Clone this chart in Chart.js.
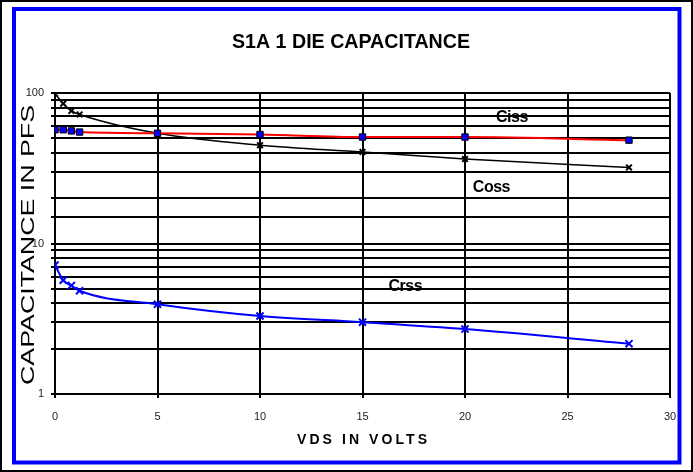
<!DOCTYPE html>
<html>
<head>
<meta charset="utf-8">
<script src="https://cdn.jsdelivr.net/npm/chart.js@4/dist/chart.umd.min.js"></script>
<style>
  html, body { margin: 0; padding: 0; background: #fff; }
  #wrap { width: 693px; height: 472px; }
</style>
</head>
<body>
<div id="wrap"><canvas id="capChart" width="693" height="472"></canvas></div>
<script>
// data
const vds = [0, 0.4, 0.8, 1.2, 5, 10, 15, 20, 28]
const ciss = [57, 57, 56, 55, 54, 53, 51, 51, 48.6]
const coss = [99, 85, 76, 72, 54, 45, 40.6, 36.4, 32]
const crss = [7.2, 5.7, 5.25, 4.85, 3.95, 3.3, 3.0, 2.7, 2.16]
const yLabels = [1, 10, 100]
const seriesNames = ['Ciss', 'Coss', 'Crss']

// where the series names sit (in data units)
const nameSpots = [
    { x: 22.3, y: 69 },
    { x: 21.3, y: 23.7 },
    { x: 17.1, y: 5.16 }
]

const pts = (ys) => vds.map((v, i) => ({ x: v, y: ys[i] }))

// draw text fitted to a width, either by spacing letters or by stretching glyphs
function fitText(ctx, txt, cx, cy, font, w, opts = {}) {
    ctx.save()
    ctx.font = font
    ctx.letterSpacing = '0px'
    const plain = ctx.measureText(txt).width
    ctx.translate(cx, cy)
    if (opts.angle) ctx.rotate(opts.angle)
    ctx.textAlign = 'left'
    ctx.textBaseline = 'middle'
    ctx.fillStyle = '#000'
    if (opts.stretch) {
        ctx.scale(w / plain, 1)
        ctx.fillText(txt, -plain / 2, 0)
    } else {
        const ls = w ? (w - plain) / (txt.length - 1) : -0.5
        const full = w || plain + ls * (txt.length - 1)
        ctx.letterSpacing = ls + 'px'
        ctx.fillText(txt, -full / 2, 0)
    }
    ctx.restore()
}

const decor = {
    id: 'decor',
    beforeDraw(chart) {
        const ctx = chart.ctx
        ctx.save()
        ctx.fillStyle = '#fff'
        ctx.fillRect(0, 0, chart.width, chart.height)
        ctx.strokeStyle = '#000'
        ctx.lineWidth = 2
        ctx.strokeRect(1, 1, 691, 470)
        ctx.strokeStyle = '#0000ff'
        ctx.lineWidth = 4
        ctx.strokeRect(14, 9, 665.5, 453.5)
        ctx.restore()
    },
    afterDraw(chart) {
        const ctx = chart.ctx
        const xs = chart.scales.x, ys = chart.scales.y
        fitText(ctx, 'S1A 1 DIE CAPACITANCE', 351, 42, 'bold 21px "Liberation Sans", Arial', 238, { stretch: true })
        fitText(ctx, 'VDS IN VOLTS', 362, 440, 'bold 14px "Liberation Sans", Arial', 130)
        fitText(ctx, 'CAPACITANCE IN PFS', 29, 245, '18px "Liberation Sans", Arial', 280, { stretch: true, angle: -Math.PI / 2 })
        seriesNames.forEach((n, i) => {
            fitText(ctx, n, xs.getPixelForValue(nameSpots[i].x), ys.getPixelForValue(nameSpots[i].y),
                'bold 16px "Liberation Sans", Arial', 0)
        })
    }
}

const ctx = document.getElementById('capChart').getContext('2d')

const config = {
    type: 'line',
    data: {
        datasets: [{
            label: seriesNames[0],
            data: pts(ciss),
            borderColor: '#ff0000',
            borderWidth: 2,
            pointStyle: 'rect',
            pointRadius: 4.5,
            pointBackgroundColor: '#0000ff',
            pointBorderColor: '#000',
            pointBorderWidth: 1,
            cubicInterpolationMode: 'monotone'
        }, {
            label: seriesNames[1],
            data: pts(coss),
            borderColor: '#000',
            borderWidth: 1.5,
            pointStyle: 'crossRot',
            pointRadius: 4,
            pointBorderColor: '#000',
            pointBorderWidth: 2,
            cubicInterpolationMode: 'monotone'
        }, {
            label: seriesNames[2],
            data: pts(crss),
            borderColor: '#0000ff',
            borderWidth: 2,
            pointStyle: 'crossRot',
            pointRadius: 5,
            pointBorderColor: '#0000ff',
            pointBorderWidth: 2,
            cubicInterpolationMode: 'monotone'
        }]
    },
    options: {
        responsive: false,
        animation: false,
        layout: { padding: { left: 0, top: 93, right: 23, bottom: 0 } },
        plugins: {
            legend: { display: false },
            title: { display: false },
            tooltip: { enabled: false }
        },
        scales: {
            x: {
                type: 'linear',
                min: 0,
                max: 30,
                afterFit: (s) => { s.height = 78 },
                ticks: {
                    stepSize: 5,
                    padding: 12,
                    color: '#222',
                    font: { family: '"Liberation Sans", Arial', size: 11 }
                },
                grid: { color: '#000', lineWidth: 2, tickLength: 4 },
                border: { color: '#000', width: 2 }
            },
            y: {
                type: 'logarithmic',
                min: 1,
                max: 100,
                afterFit: (s) => { s.width = 55 },
                ticks: {
                    autoSkip: false,
                    padding: 7,
                    color: '#222',
                    font: { family: '"Liberation Sans", Arial', size: 11 },
                    callback: function (value) {
                        return yLabels.includes(Math.round(value * 1000) / 1000) ? String(value) : ''
                    }
                },
                grid: { color: '#000', lineWidth: 2, tickLength: 4 },
                border: { color: '#000', width: 2 }
            }
        }
    },
    plugins: [decor]
}

const capChart = new Chart(ctx, config)
</script>
</body>
</html>
